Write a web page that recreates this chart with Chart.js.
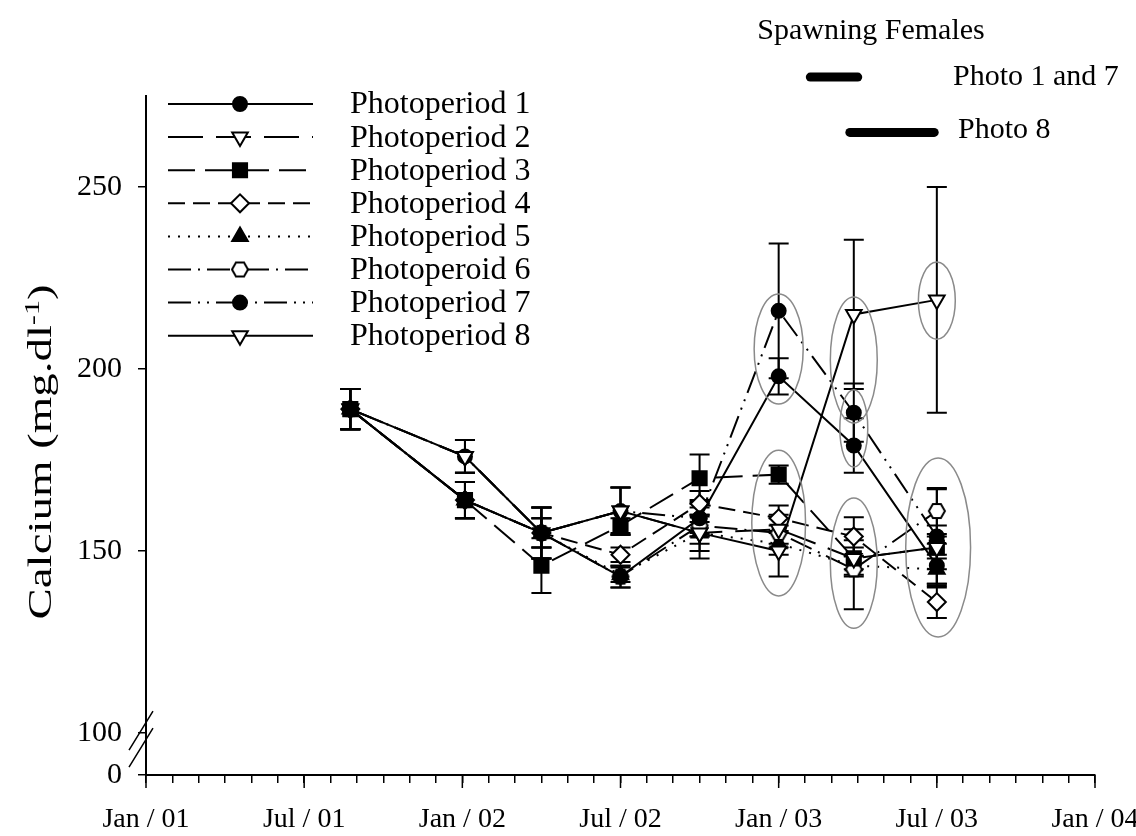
<!DOCTYPE html>
<html><head><meta charset="utf-8">
<script src="https://cdn.jsdelivr.net/npm/chart.js@4.4.1/dist/chart.umd.min.js"></script>
<style>html,body{margin:0;padding:0;background:#fff}#wrap{width:1136px;height:836px;position:relative}</style>
</head><body><div id="wrap"><canvas id="c" width="1136" height="836"></canvas></div>
<script>
// ---- data ----
const months = [7.75, 12.1, 15, 18, 21, 24, 26.85, 30]; // months after Jan 2001
const xTickLabels = ['Jan / 01','Jul / 01','Jan / 02','Jul / 02','Jan / 03','Jul / 03','Jan / 04'];
const yTickLabels = [0, 100, 150, 200, 250];
const seriesNames = ['Photoperiod 1','Photoperiod 2','Photoperiod 3','Photoperiod 4','Photoperiod 5','Photoperoid 6','Photoperiod 7','Photoperiod 8'];
const photo1 = [189, 164, 155, 143, 159, 198, 179, 146];
const photo2 = [189, 176, 155, 161, 155, 156, 148, 151];
const photo3 = [189, 164, 146, 157, 170, 171, 148, 151];
const photo4 = [189, 164, 155, 149, 163, 159, 154, 136];
const photo5 = [189, 164, 155, 143.5, 155, 152, 146, 145];
const photo6 = [189, 164, 155, 143, 157, 155, 145, 161];
const photo7 = [189, 176, 155, 161, 159, 216, 188, 154];
const photo8 = [189, 176, 155, 161, 155, 150, 215, 219];
const err1 = [5.5, 5, 7, 3, 5, 5, 7.5, 6];
const err2 = [5.5, 4.5, 7, 6.5, 5, 4, 5, 6];
const err3 = [5.5, 5, 7.5, 2, 6.5, 2.5, 3, 3];
const err4 = [5.5, 5, 4, 2, 3.5, 3.5, 5.3, 4.4];
const err5 = [5.5, 5, 4, 2, 3, 3, 2.5, 4];
const err6 = [5.5, 5, 4, 3, 3, 4, 11, 6.3];
const err7 = [5.5, 4.5, 7, 6.5, 4, 18.5, 8, 13];
const err8 = [5.5, 4.5, 7, 6.5, 7, 7, 20.5, 31];
const spawnNames = ['Photo 1 and 7', 'Photo 8'];
const spawnPhoto17 = [25.2, 27.0];
const spawnPhoto8 = [26.7, 29.9];
const spawnLevels = [280.2, 265];
const ellipseMonths = [24, 24, 26.85, 26.85, 26.85, 30.05, 30];
const ellipseValues = [205.5, 157.7, 202.5, 183.7, 146.7, 151, 218.8];
const ellipseHalfMonths = [0.93, 1.02, 0.89, 0.53, 0.89, 1.23, 0.7];
const ellipseHalfValues = [15.1, 20, 17.3, 10.6, 17.9, 24.6, 10.6];

const seriesValues = [photo1, photo2, photo3, photo4, photo5, photo6, photo7, photo8];
const seriesErrors = [err1, err2, err3, err4, err5, err6, err7, err8];
const Y_BREAK_MIN = 88.5; // position drawn as "0" below the axis break

// ---- styles ----
const FONT = '"Liberation Serif", "Times New Roman", serif';
function makeHex() {
  const c = document.createElement('canvas'); c.width = 22; c.height = 22;
  const g = c.getContext('2d');
  g.beginPath();
  for (let k = 0; k < 6; k++) {
    const a = Math.PI / 3 * k;
    const px = 11 + 8 * Math.cos(a), py = 11 + 8 * Math.sin(a);
    k ? g.lineTo(px, py) : g.moveTo(px, py);
  }
  g.closePath(); g.fillStyle = '#fff'; g.fill(); g.lineWidth = 2; g.strokeStyle = '#000'; g.stroke();
  return c;
}
const hex = makeHex();
const styles = [
  {ps: 'circle', r: 7, rot: 0, bg: '#000', dash: [], order: 0},
  {ps: 'triangle', r: 9, rot: 180, bg: '#fff', dash: [35, 13], order: 0},
  {ps: 'rect', r: 10, rot: 0, bg: '#000', dash: [27, 10], order: 0},
  {ps: 'rectRot', r: 9, rot: 0, bg: '#fff', dash: [17, 8], order: 0},
  {ps: 'triangle', r: 9, rot: 0, bg: '#000', dash: [2, 8], order: 1},
  {ps: hex, r: 8, rot: 0, bg: '#fff', dash: [23, 7, 2, 7], order: 0},
  {ps: 'circle', r: 7, rot: 0, bg: '#000', dash: [23, 7, 2, 7, 2, 7], order: 0},
  {ps: 'triangle', r: 9, rot: 180, bg: '#fff', dash: [], order: 0}
];

const datasets = seriesValues.map((vals, i) => ({
  label: seriesNames[i],
  order: styles[i].order,
  data: vals.map((v, j) => ({x: months[j], y: v})),
  borderColor: '#000', borderWidth: 2, borderDash: styles[i].dash,
  pointStyle: styles[i].ps, pointRadius: styles[i].r, pointRotation: styles[i].rot,
  pointBackgroundColor: styles[i].bg, pointBorderColor: '#000', pointBorderWidth: 2,
  tension: 0, fill: false
}));
[spawnPhoto17, spawnPhoto8].forEach((span, k) => {
  datasets.push({
    label: spawnNames[k],
    data: span.map(m => ({x: m, y: spawnLevels[k]})),
    borderColor: '#000', borderWidth: 9, borderCapStyle: 'round',
    pointRadius: 0, clip: false, fill: false
  });
});

const extras = {
  id: 'extras',
  beforeDatasetsDraw(chart) {
    const ctx = chart.ctx, xs = chart.scales.x, ys = chart.scales.y;
    ctx.save();
    ctx.strokeStyle = '#000'; ctx.lineWidth = 2; ctx.setLineDash([]);
    seriesErrors.forEach((errs, i) => {
      errs.forEach((e, j) => {
        const v = seriesValues[i][j];
        const px = xs.getPixelForValue(months[j]);
        const t = ys.getPixelForValue(v + e), b = ys.getPixelForValue(v - e);
        ctx.beginPath();
        ctx.moveTo(px, t); ctx.lineTo(px, b);
        ctx.moveTo(px - 10, t); ctx.lineTo(px + 10, t);
        ctx.moveTo(px - 10, b); ctx.lineTo(px + 10, b);
        ctx.stroke();
      });
    });
    ctx.restore();
  },
  afterDatasetsDraw(chart) {
    const ctx = chart.ctx, xs = chart.scales.x, ys = chart.scales.y;
    ctx.save();
    ctx.strokeStyle = '#8a8a8a'; ctx.lineWidth = 1.5; ctx.setLineDash([]);
    ellipseMonths.forEach((m, k) => {
      const cx = xs.getPixelForValue(m), cy = ys.getPixelForValue(ellipseValues[k]);
      const rx = Math.abs(xs.getPixelForValue(m + ellipseHalfMonths[k]) - cx);
      const ry = Math.abs(ys.getPixelForValue(ellipseValues[k] + ellipseHalfValues[k]) - cy);
      ctx.beginPath(); ctx.ellipse(cx, cy, rx, ry, 0, 0, Math.PI * 2); ctx.stroke();
    });
    ctx.restore();
  },
  afterDraw(chart) {
    const ctx = chart.ctx, xs = chart.scales.x, ys = chart.scales.y;
    const ca = chart.chartArea;
    ctx.save();
    // longer major x ticks
    ctx.strokeStyle = '#000'; ctx.lineWidth = 1.5;
    for (let m = 0; m <= 36; m += 6) {
      const px = xs.getPixelForValue(m);
      ctx.beginPath(); ctx.moveTo(px, ca.bottom); ctx.lineTo(px, ca.bottom + 13); ctx.stroke();
    }
    // axis break marks
    ctx.lineWidth = 1.5;
    const yb = ys.getPixelForValue(100);
    ctx.beginPath();
    ctx.moveTo(129, yb + 17); ctx.lineTo(153, yb - 22);
    ctx.moveTo(129, yb + 34); ctx.lineTo(153, yb - 5);
    ctx.stroke();
    // legend
    ctx.textBaseline = 'middle'; ctx.textAlign = 'left';
    seriesNames.forEach((name, i) => {
      const y = 104 + 33.1 * i;
      ctx.save();
      ctx.strokeStyle = '#000'; ctx.lineWidth = 2; ctx.setLineDash(styles[i].dash);
      ctx.beginPath(); ctx.moveTo(168, y); ctx.lineTo(313, y); ctx.stroke();
      ctx.setLineDash([]);
      ctx.fillStyle = styles[i].bg; ctx.strokeStyle = '#000'; ctx.lineWidth = 2;
      Chart.helpers.drawPoint(ctx, {pointStyle: styles[i].ps, radius: styles[i].r, rotation: styles[i].rot, borderWidth: 2}, 240, y);
      ctx.restore();
      ctx.font = '32px ' + FONT; ctx.fillStyle = '#000';
      ctx.fillText(name, 350, y + 1);
    });
    // spawning legend texts
    ctx.font = '30px ' + FONT; ctx.fillStyle = '#000';
    ctx.textAlign = 'center';
    ctx.fillText('Spawning Females', 871, 31);
    ctx.textAlign = 'left';
    ctx.fillText(spawnNames[0], 953, ys.getPixelForValue(spawnLevels[0]));
    ctx.fillText(spawnNames[1], 958, ys.getPixelForValue(spawnLevels[1]) - 2);
    // y axis title with superscript
    ctx.save();
    ctx.translate(40, 452); ctx.rotate(-Math.PI / 2);
    const f1 = '33px ' + FONT, f2 = '21px ' + FONT;
    const p1 = 'Calcium (mg.dl', p2 = '-1', p3 = ')';
    ctx.font = f1; const w1 = ctx.measureText(p1).width, w3 = ctx.measureText(p3).width;
    ctx.font = f2; const w2 = ctx.measureText(p2).width;
    const total = w1 + w2 + w3;
    ctx.scale(335 / total, 1);
    let x0 = -total / 2;
    ctx.textAlign = 'left'; ctx.textBaseline = 'alphabetic';
    ctx.font = f1; ctx.fillText(p1, x0, 11);
    ctx.font = f2; ctx.fillText(p2, x0 + w1, -1);
    ctx.font = f1; ctx.fillText(p3, x0 + w1 + w2, 11);
    ctx.restore();
    ctx.restore();
  }
};

new Chart(document.getElementById('c'), {
  type: 'line',
  data: {datasets},
  options: {
    responsive: false, animation: false, devicePixelRatio: 1,
    layout: {padding: {top: 96, right: 41, left: 0, bottom: 0}},
    plugins: {legend: {display: false}, tooltip: {enabled: false}},
    scales: {
      x: {
        type: 'linear', min: 0, max: 36,
        afterFit(s) { s.height = 61; s.paddingLeft = 0; s.paddingRight = 0; },
        ticks: {stepSize: 1, autoSkip: false, maxRotation: 0, padding: 20, color: '#000',
          font: {family: FONT, size: 28},
          callback: v => (v % 6 === 0 ? xTickLabels[v / 6] : '')},
        grid: {drawOnChartArea: false, tickLength: 8, color: '#000', lineWidth: 1.5},
        border: {color: '#000', width: 2}
      },
      y: {
        type: 'linear', min: Y_BREAK_MIN, max: 275,
        afterFit(s) { s.width = 146; s.paddingTop = 0; s.paddingBottom = 0; },
        afterBuildTicks(s) { s.ticks = yTickLabels.map(v => ({value: v === 0 ? Y_BREAK_MIN : v})); },
        ticks: {color: '#000', padding: 16, font: {family: FONT, size: 30},
          callback: v => (v === Y_BREAK_MIN ? '0' : String(v))},
        grid: {drawOnChartArea: false, tickLength: 8, color: '#000', lineWidth: 1.5},
        border: {color: '#000', width: 2}
      }
    }
  },
  plugins: [extras]
});
</script></body></html>
